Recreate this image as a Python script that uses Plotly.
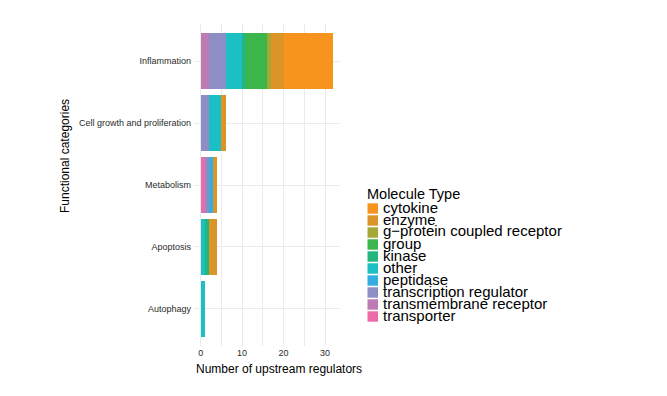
import plotly.graph_objects as go

categories = ["Inflammation", "Cell growth and proliferation", "Metabolism", "Apoptosis", "Autophagy"]

molecule_types = ["cytokine", "enzyme", "g\u2212protein coupled receptor", "group", "kinase",
                  "other", "peptidase", "transcription regulator", "transmembrane receptor", "transporter"]

# counts per molecule type, in the order of `categories`
cytokine = [12, 0, 0, 0, 0]
enzyme = [3, 1, 1, 2, 0]
gpcr = [1, 0, 0, 0, 0]
group = [5, 0, 0, 0, 0]
kinase = [1, 0, 0, 1, 0]
other = [4, 3, 0, 1, 1]
peptidase = [0, 0, 1, 0, 0]
transcription_regulator = [4, 2, 1, 0, 0]
transmembrane_receptor = [2, 0, 0, 0, 0]
transporter = [0, 0, 1, 0, 0]

series = [cytokine, enzyme, gpcr, group, kinase, other, peptidase,
          transcription_regulator, transmembrane_receptor, transporter]

colors = ["#F7941E", "#DB9428", "#A5A834", "#3CB54A", "#24B67E",
          "#1BBFC4", "#34ADE3", "#8D8EC5", "#BE7AB3", "#ED6BA6"]

x_ticks = [0, 10, 20, 30]

FONT = "Liberation Sans, Arial, Helvetica, sans-serif"

fig = go.Figure()
# stacking: last legend entry sits at the base (left)
for name, vals, col in reversed(list(zip(molecule_types, series, colors))):
    fig.add_trace(go.Bar(
        y=categories, x=vals, name=name, orientation="h",
        marker=dict(color=col, line=dict(width=0)),
        width=0.9, showlegend=False,
    ))

W, H = 667, 396
L, R, T, B = 194, 340, 24, 346


def px(x):
    return (x - L) / (R - L)


def py(y):
    return (B - y) / (B - T)


fig.update_layout(
    width=W, height=H,
    barmode="stack",
    bargap=0.1,
    plot_bgcolor="white", paper_bgcolor="white",
    margin=dict(l=L, r=W - R, t=T, b=H - B, pad=0, autoexpand=False),
    font=dict(family=FONT, color="#000000"),
    xaxis=dict(
        range=[-1.6, 33.6], tickvals=x_ticks, ticktext=[str(v) for v in x_ticks],
        showgrid=True, gridcolor="#EBEBEB", gridwidth=1,
        minor=dict(dtick=5, tick0=0, showgrid=True, gridcolor="#EBEBEB", gridwidth=1),
        zeroline=False, showline=False, ticks="",
        tickfont=dict(size=9, color="#2B2B2B"),
        automargin=False,
        fixedrange=True,
    ),
    yaxis=dict(
        categoryorder="array", categoryarray=list(reversed(categories)),
        range=[-0.6, 4.6],
        showgrid=True, gridcolor="#EBEBEB", gridwidth=1,
        zeroline=False, showline=False, ticks="",
        tickfont=dict(size=9, color="#2B2B2B"),
        ticklabelstandoff=2,
        automargin=False,
        fixedrange=True,
    ),
    showlegend=False,
)

annotations = [
    dict(text="Number of upstream regulators", x=px(278.5), y=py(369),
         xref="paper", yref="paper", xanchor="center", yanchor="middle",
         showarrow=False, font=dict(size=12, family=FONT, color="#000000")),
    dict(text="Functional categories", x=px(65), y=py(156),
         xref="paper", yref="paper", xanchor="center", yanchor="middle",
         textangle=-90, showarrow=False, font=dict(size=12, family=FONT, color="#000000")),
    dict(text="Molecule Type", x=px(365), y=py(194),
         xref="paper", yref="paper", xanchor="left", yanchor="middle",
         showarrow=False, font=dict(size=14.5, family=FONT, color="#000000")),
]

shapes = []
# manual legend (ggplot-style compact keys)
row0, step = 208.5, 12.0
for i, (name, col) in enumerate(zip(molecule_types, colors)):
    cy = row0 + i * step
    shapes.append(dict(type="rect", xref="paper", yref="paper",
                       x0=px(367.5), x1=px(378),
                       y0=py(cy + 5.2), y1=py(cy - 5.2),
                       fillcolor=col, line=dict(width=0)))
    annotations.append(dict(text=name, x=px(380.5), y=py(cy - 1.5),
                            xref="paper", yref="paper", xanchor="left", yanchor="middle",
                            showarrow=False,
                            font=dict(size=15, family=FONT, color="#000000")))

fig.update_layout(annotations=annotations, shapes=shapes)

fig.write_html(
    "out.html",
    config={"displayModeBar": False},
    post_script="document.body.style.margin='0';document.body.style.padding='0';",
)
